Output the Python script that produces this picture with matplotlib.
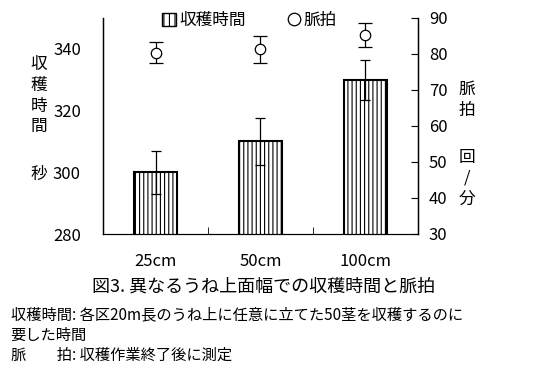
import matplotlib
matplotlib.use('Agg')
import matplotlib.pyplot as plt
from matplotlib.patches import Patch
from matplotlib.lines import Line2D

plt.rcParams['font.family'] = ['Noto Sans CJK JP', 'DejaVu Sans']
plt.rcParams['hatch.linewidth'] = 0.8

# data
categories = ['25cm', '50cm', '100cm']
harvest_time = [300, 310, 330]          # 秒
harvest_err = [7, 7.5, 6.5]
pulse = [80.3, 81.3, 85.2]              # 回/分
pulse_err = [2.9, 3.8, 3.4]

fig = plt.figure(figsize=(5.37, 3.9), dpi=100)
ax = fig.add_axes([0.192, 0.4, 0.586, 0.554])
ax2 = ax.twinx()

x = list(range(len(categories)))
ax.bar(x, harvest_time, width=0.41, bottom=0, color='white', edgecolor='black',
       linewidth=1.5, hatch='||||', zorder=2)
ax.errorbar(x, harvest_time, yerr=harvest_err, fmt='none', ecolor='black',
            elinewidth=0.9, capsize=3.5, capthick=0.9, zorder=3)
ax2.errorbar(x, pulse, yerr=pulse_err, fmt='o', color='black', mfc='white',
             mec='black', ms=7.5, mew=0.9, elinewidth=0.9, capsize=5, capthick=0.9)

ax.set_xlim(-0.5, 2.5)
ax.set_ylim(280, 350)
ax.set_yticks([280, 300, 320, 340])
ax2.set_ylim(30, 90)
ax2.set_yticks([30, 40, 50, 60, 70, 80, 90])

for a in (ax, ax2):
    a.spines['top'].set_visible(False)
    a.tick_params(labelsize=12)
ax.spines['left'].set_linewidth(1)
ax2.spines['right'].set_linewidth(1)
ax.tick_params(axis='y', length=0, pad=16)
ax2.tick_params(axis='y', direction='in', length=5, pad=8)

ax.set_xticks(x)
ax.set_xticklabels(categories)
ax.tick_params(axis='x', length=0, pad=14)
ax.set_xticks([0.5, 1.5], minor=True)
ax.tick_params(axis='x', which='minor', direction='in', length=5)

fig.text(0.072, 0.755, '収\n穫\n時\n間', ha='center', va='center', fontsize=12,
         linespacing=1.3)
fig.text(0.072, 0.553, '秒', ha='center', va='center', fontsize=12)
fig.text(0.87, 0.744, '脈\n拍', ha='center', va='center', fontsize=12,
         linespacing=1.3)
fig.text(0.87, 0.543, '回\n/\n分', ha='center', va='center', fontsize=12,
         linespacing=1.3)

handles = [Patch(facecolor='white', edgecolor='black', hatch='|||', linewidth=1),
           Line2D([], [], marker='o', ls='none', mfc='white', mec='black', ms=9, mew=0.9)]
fig.legend(handles, ['収穫時間', '脈拍'], loc='center', bbox_to_anchor=(0.465, 0.947),
           ncol=2, frameon=False, fontsize=12, handlelength=0.8, handleheight=0.9,
           handletextpad=0.2, columnspacing=2.5)

fig.text(0.49, 0.266, '図3. 異なるうね上面幅での収穫時間と脈拍', ha='center', va='center',
         fontsize=13)
fig.text(0.02, 0.192, '収穫時間: 各区20m長のうね上に任意に立てた50茎を収穫するのに',
         ha='left', va='center', fontsize=11)
fig.text(0.02, 0.14, '要した時間', ha='left', va='center', fontsize=11)
fig.text(0.02, 0.088, '脈　　拍: 収穫作業終了後に測定', ha='left', va='center', fontsize=11)

fig.savefig('out.png', dpi=100)
